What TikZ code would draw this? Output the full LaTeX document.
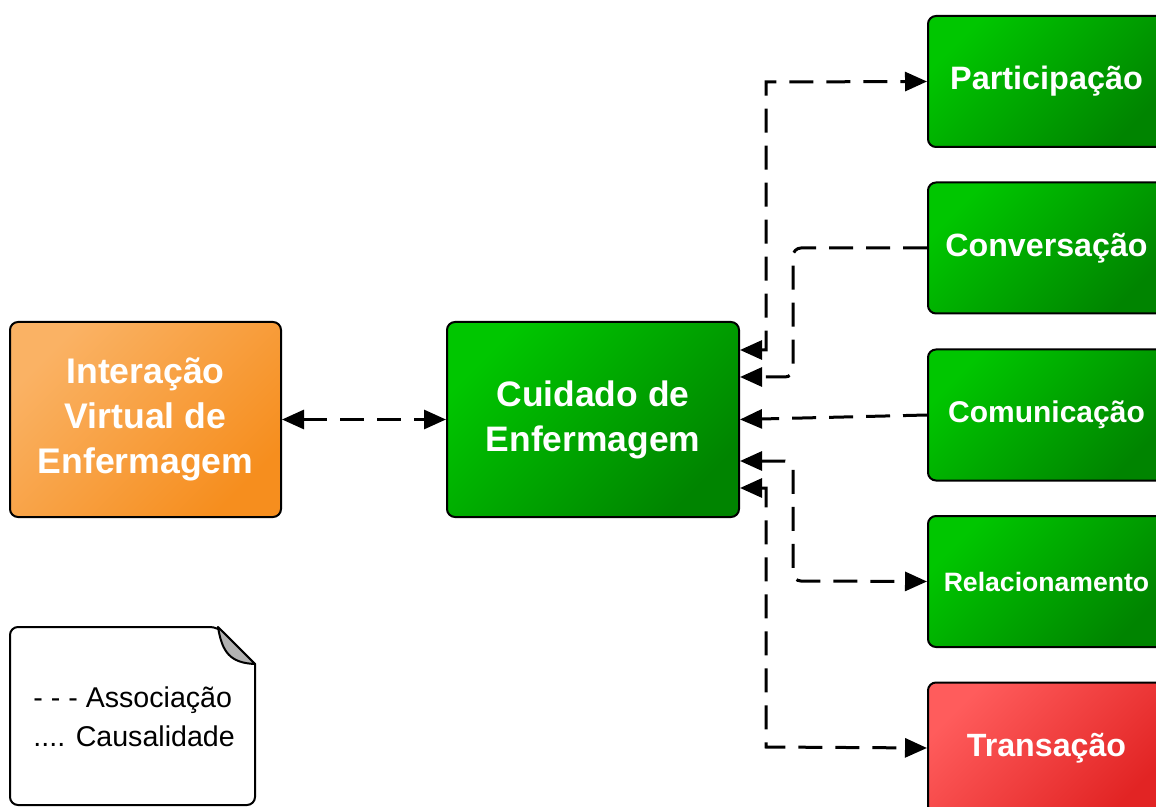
\documentclass[tikz,border=0pt]{standalone}
\usepackage{fontspec}
\setmainfont{Liberation Sans}
\usetikzlibrary{arrows.meta}

\newlength{\du}
\setlength{\du}{0.5pt}

\definecolor{greenlight}{RGB}{0,198,0}
\definecolor{greendark}{RGB}{0,132,0}
\definecolor{orangelight}{RGB}{250,178,100}
\definecolor{orangedark}{RGB}{246,142,30}
\definecolor{redlight}{RGB}{255,92,92}
\definecolor{reddark}{RGB}{226,36,36}
\definecolor{foldgray}{RGB}{178,178,178}

\tikzset{
  box/.style={draw=black, line width=2\du, rounded corners=8\du, text=white,
    align=center, inner sep=0pt},
  greenbox/.style={box, top color=greenlight, bottom color=greendark, shading angle=45},
  orangebox/.style={box, top color=orangelight, bottom color=orangedark, shading angle=45},
  redbox/.style={box, top color=redlight, bottom color=reddark, shading angle=45},
  sidebox/.style={minimum width=237\du, minimum height=131\du},
  link/.style={line width=1.5pt, dash pattern=on 12pt off 6.5pt,
    >={Triangle[length=11pt,width=9.5pt]}},
}

\begin{document}
\begin{tikzpicture}[x=1\du,y=-1\du]
\useasboundingbox (0,0) rectangle (1156,807);
\clip (0,0) rectangle (1156,807);

% main boxes
\node[orangebox, minimum width=271\du, minimum height=195\du,
  font=\fontsize{17.8}{22.5}\selectfont\bfseries] (inter) at (145.5,419.5)
  {Interação\\Virtual de\\Enfermagem};
\node[greenbox, minimum width=292\du, minimum height=195\du,
  font=\fontsize{17.7}{22.5}\selectfont\bfseries] (cuidado) at (593,419.5)
  {Cuidado de\\Enfermagem};

% right column
\node[greenbox, sidebox, font=\fontsize{16.2}{20}\selectfont\bfseries] (part) at (1046.5,81.5) {Participação};
\node[greenbox, sidebox, font=\fontsize{16.1}{20}\selectfont\bfseries] (conv) at (1046.5,248) {Conversação};
\node[greenbox, sidebox, font=\fontsize{15}{20}\selectfont\bfseries] (com) at (1046.5,415) {Comunicação};
\node[greenbox, sidebox, font=\fontsize{13.3}{20}\selectfont\bfseries] (rel) at (1046.5,581.5) {Relacionamento};
\node[redbox, sidebox, font=\fontsize{16.1}{20}\selectfont\bfseries] (trans) at (1046.5,748) {Transação};

% legend note
\draw[line width=2\du, fill=white, rounded corners=8\du] (10,700) -- (10,627) -- (218,627)
  [sharp corners] -- (255,664) [rounded corners=8\du] -- (255,805) -- (10,805) -- cycle;
\draw[line width=2\du, fill=foldgray, line join=round] (218,627)
  .. controls (222,652) and (230,663) .. (255,664) -- cycle;
\node[anchor=west, align=left, inner sep=0pt,
  font=\fontsize{14.3}{19.5}\selectfont] (legend) at (33,717)
  {- - - Associação\\.... Causalidade};

% connectors
\draw[link,<->] (inter.east) -- (cuidado.west);
\draw[link,<->] ([yshift=69.5\du]cuidado.east) -| (766,82) -- (part.west);
\draw[link,->,rounded corners=8\du] (conv.west) -| (793,377) -- ([yshift=42.5\du]cuidado.east);
\draw[link,->] (com.west) -- (cuidado.east);
\draw[link,<->,rounded corners=8\du] ([yshift=-41.5\du]cuidado.east) -| (793,581) -- (rel.west);
\draw[link,<->] ([yshift=-68.5\du]cuidado.east) -| (766,747) -- (trans.west);
\end{tikzpicture}
\end{document}
